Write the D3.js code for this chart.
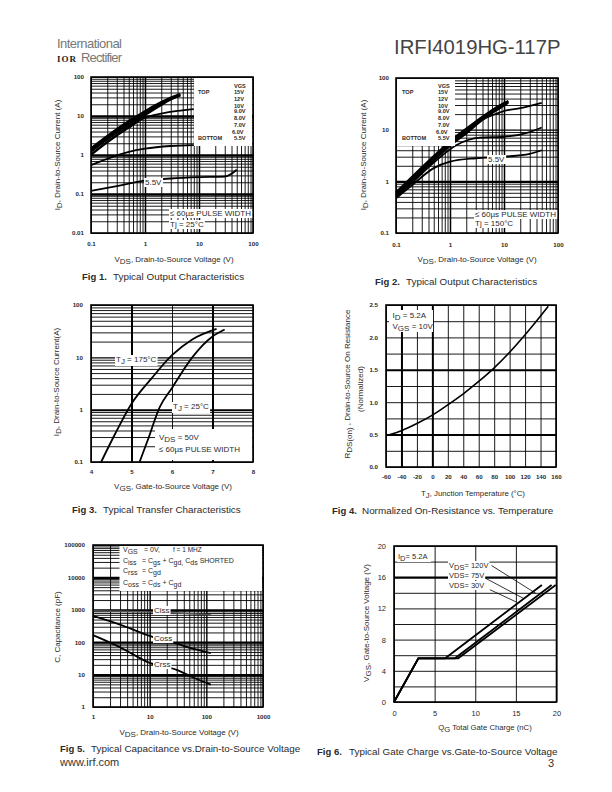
<!DOCTYPE html>
<html>
<head>
<meta charset="utf-8">
<script src="https://d3js.org/d3.v7.min.js"></script>
<style>
html, body { margin: 0; padding: 0; background: #fff; }
svg { display: block; }
text { font-family: "Liberation Sans", Arial, sans-serif; fill: #2a2a2a; }
</style>
</head>
<body>
<svg id="page" width="612" height="792"></svg>
<script>
// Fig 1 values
var f1_vds = [0.1, 0.2, 0.5, 1, 2, 3, 4.5];
var f1_15v = [1.5, 3.1, 7.5, 13.5, 23, 30, 37];
var f1_12v = [1.4, 2.9, 7, 12.8, 22, 29, 36];
var f1_10v = [1.3, 2.7, 6.5, 12, 21, 28, 35];
var f1_9v = [1.2, 2.5, 6, 11.2, 20, 27, 34];
var f1_8v = [1.05, 2.2, 5.4, 10.4, 19, 26, 33];
var f1_7v_x = [0.1, 0.2, 0.5, 1, 2, 4, 8];
var f1_7v = [1, 2.1, 5, 9, 11.5, 13.5, 15];
var f1_6v_x = [0.1, 0.2, 0.5, 1, 3, 8];
var f1_6v = [0.55, 0.8, 1.2, 1.45, 1.7, 1.8];
var f1_55v_x = [0.1, 0.3, 1, 3, 10, 30, 50];
var f1_55v = [0.12, 0.16, 0.22, 0.25, 0.27, 0.28, 0.42];

// Fig 2 values
var f2_vds = [0.1, 0.2, 0.5, 1, 2, 4, 8, 12];
var f2_15v = [0.62, 1.25, 3.1, 6, 10.5, 18, 29, 36];
var f2_12v = [0.6, 1.2, 3, 5.8, 10, 17.5, 28, 35];
var f2_10v = [0.57, 1.15, 2.85, 5.5, 9.6, 17, 27, 34.5];
var f2_9v = [0.55, 1.1, 2.7, 5.2, 9.2, 16.5, 26, 34];
var f2_8v = [0.53, 1.05, 2.6, 5, 8.8, 16, 25, 33];
var f2_7v_x = [0.1, 0.2, 0.5, 1, 2, 4.7, 7, 11, 20, 50];
var f2_7v = [0.52, 1.02, 2.5, 4.8, 8.4, 17, 20, 23.5, 26, 33];
var f2_6v_x = [0.1, 0.2, 0.5, 1.3, 3.6, 10, 30, 50];
var f2_6v = [0.5, 0.95, 2.3, 5, 7, 7.3, 9, 11];
var f2_55v_x = [0.1, 0.2, 0.5, 1, 3, 10, 30, 50];
var f2_55v = [0.47, 0.85, 1.8, 2.4, 2.8, 3, 3.4, 4];

// Fig 3 values
var f3_175_x = [4.25, 4.6, 5, 5.5, 6, 6.5, 7.1];
var f3_175 = [0.1, 0.35, 1.3, 4, 11, 22, 35];
var f3_25_x = [5.2, 5.4, 5.7, 6, 6.5, 7, 7.3];
var f3_25 = [0.1, 0.26, 1.13, 2.6, 10, 25, 34];

// Fig 4 values
var f4_temp = [-55, -40, -20, 0, 20, 40, 60, 80, 100, 120, 140, 150];
var f4_rds = [0.5, 0.56, 0.67, 0.8, 0.96, 1.13, 1.32, 1.53, 1.77, 2.04, 2.33, 2.48];

// Fig 5 values
var f5_ciss_x = [1, 10, 30, 120];
var f5_ciss = [930, 860, 800, 700];
var f5_coss_x = [1, 3, 10, 30, 60, 120];
var f5_coss = [650, 350, 157, 90, 62, 46];
var f5_crss_x = [1, 3, 10, 30, 60, 120];
var f5_crss = [165, 70, 23, 14, 8, 4.9];

// Fig 6 values
var f6_120_x = [0, 3, 6.3, 18.2];
var f6_75_x = [0, 3, 7.5, 19.4];
var f6_30_x = [0, 3, 7.9, 19.9];
var f6_vgs = [0, 5.6, 5.6, 15];
var f6_lead_x = [[12, 17.5], [11.2, 15.9], [11.8, 15.1]];
var f6_lead_y = [[17.5, 13.9], [15.9, 13.3], [14.4, 12.8]];

// tick labels
var ticks_001_100 = [0.01, 0.1, 1, 10, 100];
var ticks_01_100 = [0.1, 1, 10, 100];
var ticks_1_1000 = [1, 10, 100, 1000];
var ticks_cap = [1, 10, 100, 1000, 10000, 100000];
var ticks_vgs = [4, 5, 6, 7, 8];
var ticks_temp = [-60, -40, -20, 0, 20, 40, 60, 80, 100, 120, 140, 160];
var ticks_rds = [0, 0.5, 1, 1.5, 2, 2.5];
var ticks_qg = [0, 5, 10, 15, 20];
var ticks_f6_y = [0, 4, 8, 12, 16, 20];

var svg = d3.select("#page");

// every 1..9 multiple between the first and last decade
function log_grid(a, b) {
    var out = [];
    for (var d = a; d < b * 0.999; d *= 10) {
        for (var m = 1; m < 10; m++) out.push(+(d * m).toPrecision(3));
    }
    out.push(b);
    return out;
}

// text with V_{DS} style subscripts
function rich(sel, str) {
    var parts = str.split(/_\{(.*?)\}/);
    var shift = 0;
    parts.forEach(function (p, i) {
        if (p === "") return;
        var want = i % 2 ? 2 : 0;
        sel.append("tspan").attr("dy", want - shift).text(p);
        shift = want;
    });
    return sel;
}

function note(x, y, str, size, opts) {
    opts = opts || {};
    var t = svg.append("text").attr("x", x).attr("y", y).attr("font-size", size);
    rich(t, str);
    if (opts.anchor) t.attr("text-anchor", opts.anchor);
    if (opts.bold) t.attr("font-weight", "bold");
    if (opts.color) t.style("fill", opts.color);
    if (opts.rotate) t.attr("transform", "rotate(-90 " + x + " " + y + ")");
    if (opts.bg) {
        var b = t.node().getBBox();
        svg.insert("rect", function () { return t.node(); })
            .attr("x", b.x - 1).attr("y", b.y).attr("width", b.width + 2).attr("height", b.height)
            .attr("fill", "#fff");
    }
    return t;
}

function make_plot(c) {
    var x = (c.xlog ? d3.scaleLog() : d3.scaleLinear()).domain(c.xdomain).range([c.left, c.right]);
    var y = (c.ylog ? d3.scaleLog() : d3.scaleLinear()).domain(c.ydomain).range([c.bottom, c.top]);
    var h = c.bottom - c.top;
    var w = c.right - c.left;

    // grid is just axes with long ticks
    var gx = svg.append("g").attr("transform", "translate(0," + c.bottom + ")")
        .call(d3.axisBottom(x).tickValues(c.xgrid).tickSize(-h).tickFormat(""));
    gx.select(".domain").remove();
    gx.selectAll("line").attr("stroke", "#000").attr("stroke-width", function (d) { return c.xheavy[d] || 0.9; });

    var gy = svg.append("g").attr("transform", "translate(" + c.left + ",0)")
        .call(d3.axisLeft(y).tickValues(c.ygrid).tickSize(-w).tickFormat(""));
    gy.select(".domain").remove();
    gy.selectAll("line").attr("stroke", "#000").attr("stroke-width", function (d) { return c.yheavy[d] || 0.9; });

    var line = d3.line().x(function (d) { return x(d[0]); }).y(function (d) { return y(d[1]); });
    if (c.curve) line.curve(c.curve);
    c.series.forEach(function (s) {
        svg.append("path").datum(d3.zip(s.x, s.y))
            .attr("d", line)
            .attr("fill", "none")
            .attr("stroke", s.color || "#000")
            .attr("stroke-width", s.width || 1.8);
    });

    (c.boxes || []).forEach(function (b) {
        svg.append("rect").attr("x", b[0]).attr("y", b[1]).attr("width", b[2] - b[0]).attr("height", b[3] - b[1]).attr("fill", "#fff");
    });

    svg.append("rect").attr("x", c.left).attr("y", c.top).attr("width", w).attr("height", h)
        .attr("fill", "none").attr("stroke", "#000").attr("stroke-width", 1.6);

    // tick labels
    var ax = svg.append("g").attr("transform", "translate(0," + c.xtick_y + ")")
        .call(d3.axisBottom(x).tickValues(c.xticks).tickSize(0).tickPadding(0).tickFormat(function (d) { return String(d); }));
    ax.select(".domain").remove();
    ax.selectAll("text").attr("dy", 0).attr("y", 0).attr("font-size", c.tick_size || 6.2).attr("font-weight", c.tick_bold === false ? "normal" : "bold").attr("font-family", null);

    var ay = svg.append("g").attr("transform", "translate(" + c.ytick_x + ",0)")
        .call(d3.axisLeft(y).tickValues(c.yticks).tickSize(0).tickPadding(0).tickFormat(c.yformat || function (d) { return String(d); }));
    ay.select(".domain").remove();
    ay.selectAll("text").attr("x", 0).attr("font-size", c.tick_size || 6.2).attr("font-weight", c.tick_bold === false ? "normal" : "bold").attr("font-family", null);

    return { x: x, y: y };
}

// page header and footer
note(57, 48, "International", 13, { color: "#777" }).attr("textLength", 65);
note(57, 62, "IOR", 9, { bold: true, color: "#222" }).style("font-family", "Liberation Serif").style("letter-spacing", "1px");
note(81, 62, "Rectifier", 13, { color: "#777" }).attr("textLength", 41);
note(394, 54, "IRFI4019HG-117P", 20.3, { color: "#444" });
note(60, 766, "www.irf.com", 11, { color: "#333" });
note(548, 767, "3", 11, { color: "#333" });

// Fig 1
make_plot({
    left: 91, right: 253, top: 77, bottom: 233, xlog: true, ylog: true,
    xdomain: [0.1, 100], ydomain: [0.01, 100],
    xgrid: log_grid(0.1, 100), ygrid: log_grid(0.01, 100),
    xheavy: { 1: 1.5, 10: 1.5 }, yheavy: { 0.1: 2.4, 1: 2.4, 10: 2.4 },
    xticks: ticks_01_100, yticks: ticks_001_100, xtick_y: 246, ytick_x: 84,
    curve: d3.curveMonotoneX,
    series: [
        { x: f1_vds, y: f1_15v }, { x: f1_vds, y: f1_12v }, { x: f1_vds, y: f1_10v },
        { x: f1_vds, y: f1_9v }, { x: f1_vds, y: f1_8v }, { x: f1_7v_x, y: f1_7v },
        { x: f1_6v_x, y: f1_6v }, { x: f1_55v_x, y: f1_55v }
    ],
    boxes: [[194, 78, 252, 146]]
});
note(145, 185, "5.5V", 8, { bg: true });
note(170, 216, "≤ 60µs PULSE WIDTH", 8, { bg: true });
note(170, 227, "Tj = 25°C", 8, { bg: true });
var legend_volts = ["15V", "12V", "10V", "9.0V", "8.0V", "7.0V", "6.0V", "5.5V"];
var legend_y = [94, 100.5, 107.5, 113, 120, 127, 133.5, 140];
function vgs_legend(x_val, x_six, x_side) {
    note(x_val, 88, "VGS", 5.6, { bold: true });
    note(x_side, 94, "TOP", 5.6, { bold: true });
    note(x_side, 140, "BOTTOM", 5.6, { bold: true });
    legend_volts.forEach(function (v, i) {
        note(v === "6.0V" ? x_six : x_val, legend_y[i], v, 5.6, { bold: true });
    });
}
vgs_legend(234, 232, 198);
note(174, 262, "V_{DS}, Drain-to-Source Voltage (V)", 8, { anchor: "middle" });
note(60, 155, "I_{D}, Drain-to-Source Current (A)", 8, { anchor: "middle", rotate: true });
note(82, 280, "Fig 1.", 9.5, { bold: true });
note(113, 280, "Typical Output Characteristics", 9.9);

// Fig 2
make_plot({
    left: 396, right: 558, top: 78, bottom: 233, xlog: true, ylog: true,
    xdomain: [0.1, 100], ydomain: [0.1, 100],
    xgrid: log_grid(0.1, 100), ygrid: log_grid(0.1, 100),
    xheavy: { 1: 1.5, 10: 1.5 }, yheavy: { 1: 2.2, 10: 1.4 },
    xticks: ticks_01_100, yticks: ticks_01_100, xtick_y: 247, ytick_x: 389,
    curve: d3.curveMonotoneX,
    series: [
        { x: f2_vds, y: f2_15v }, { x: f2_vds, y: f2_12v }, { x: f2_vds, y: f2_10v },
        { x: f2_vds, y: f2_9v }, { x: f2_vds, y: f2_8v }, { x: f2_7v_x, y: f2_7v },
        { x: f2_6v_x, y: f2_6v }, { x: f2_55v_x, y: f2_55v }
    ],
    boxes: [[397, 79, 455, 146]]
});
note(488, 162, "5.5V", 8, { bg: true });
note(475, 217, "≤ 60µs PULSE WIDTH", 8, { bg: true });
note(475, 226, "Tj = 150°C", 8, { bg: true });
vgs_legend(438, 436, 402);
note(477, 262, "V_{DS}, Drain-to-Source Voltage (V)", 8, { anchor: "middle" });
note(366, 155, "I_{D}, Drain-to-Source Current (A)", 8, { anchor: "middle", rotate: true });
note(375, 285, "Fig 2.", 9.5, { bold: true });
note(406, 285, "Typical Output Characteristics", 9.9);

// Fig 3
make_plot({
    left: 91, right: 253, top: 305, bottom: 462, ylog: true, xlog: false,
    xdomain: [4, 8], ydomain: [0.1, 100],
    xgrid: ticks_vgs, ygrid: log_grid(0.1, 100),
    xheavy: { 5: 2, 7: 2 }, yheavy: { 1: 2, 10: 1.3 },
    xticks: ticks_vgs, yticks: ticks_01_100, xtick_y: 474, ytick_x: 83,
    curve: d3.curveMonotoneX,
    series: [{ x: f3_175_x, y: f3_175 }, { x: f3_25_x, y: f3_25 }],
    boxes: [[155, 429, 252, 460]]
});
note(116, 362, "T_{J} = 175°C", 8, { bg: true });
note(173, 409, "T_{J} = 25°C", 8, { bg: true });
note(159, 440, "V_{DS} = 50V", 8);
note(159, 452, "≤ 60µs PULSE WIDTH", 8);
note(173, 489, "V_{GS}, Gate-to-Source Voltage (V)", 8, { anchor: "middle" });
note(59, 382, "I_{D}, Drain-to-Source Current(A)", 8, { anchor: "middle", rotate: true });
note(72, 513, "Fig 3.", 9.5, { bold: true });
note(103, 513, "Typical Transfer Characteristics", 9.9);

// Fig 4
make_plot({
    left: 386, right: 556, top: 305, bottom: 467, xlog: false, ylog: false,
    xdomain: [-60, 160], ydomain: [0, 2.5],
    xgrid: ticks_temp, ygrid: d3.range(0, 2.51, 0.25),
    xheavy: { "-40": 2, 0: 2 }, yheavy: { 0.5: 2, 1.5: 2 },
    xticks: ticks_temp, yticks: ticks_rds, xtick_y: 479, ytick_x: 378,
    yformat: d3.format(".1f"), tick_bold: true, curve: d3.curveMonotoneX,
    series: [{ x: f4_temp, y: f4_rds, width: 1.6 }],
    boxes: [[389, 310, 433, 332]]
});
note(392.5, 318, "I_{D} = 5.2A", 8);
note(392.5, 329, "V_{GS} = 10V", 8);
note(473, 496, "T_{J},  Junction Temperature (°C)", 7.8, { anchor: "middle" });
note(350, 384, "R_{DS(on)} , Drain-to-Source On Resistance", 8, { anchor: "middle", rotate: true });
note(363, 389, "(Normalized)", 8, { anchor: "middle", rotate: true });
note(332, 514, "Fig 4.", 9.5, { bold: true });
note(362, 514, "Normalized On-Resistance vs. Temperature", 9.9);

// Fig 5
make_plot({
    left: 93, right: 263, top: 545, bottom: 707, xlog: true, ylog: true,
    xdomain: [1, 1000], ydomain: [1, 100000],
    xgrid: log_grid(1, 1000), ygrid: log_grid(1, 100000),
    xheavy: { 10: 1.4, 100: 1.4 }, yheavy: { 10: 2.2, 100: 2.2, 1000: 2.2, 10000: 2.2 },
    xticks: ticks_1_1000, yticks: ticks_cap, xtick_y: 719, ytick_x: 85,
    curve: d3.curveMonotoneX,
    series: [
        { x: f5_ciss_x, y: f5_ciss, color: "#555", width: 1.4 },
        { x: f5_coss_x, y: f5_coss },
        { x: f5_crss_x, y: f5_crss }
    ],
    boxes: [[119.5, 546, 262, 591]]
});
note(154, 613, "Ciss", 8, { bg: true });
note(154, 641, "Coss", 8, { bg: true });
note(154, 667, "Crss", 8, { bg: true });
note(123, 552, "V_{GS}", 7);
note(144, 552, "= 0V,", 7);
note(173, 552, "f = 1 MHZ", 6.5);
note(123, 563, "C_{iss}", 7);
note(142, 563, "= C_{gs} + C_{gd,}  C_{ds} SHORTED", 7);
note(123, 573, "C_{rss}", 7);
note(142, 573, "= C_{gd}", 7);
note(123, 585, "C_{oss}", 7);
note(142, 585, "= C_{ds} + C_{gd}", 7);
note(179, 735, "V_{DS}, Drain-to-Source Voltage (V)", 8, { anchor: "middle" });
note(60, 627, "C, Capacitance (pF)", 8, { anchor: "middle", rotate: true });
note(60, 752, "Fig 5.", 9.5, { bold: true });
note(91, 752, "Typical Capacitance vs.Drain-to-Source Voltage", 9.9);

// Fig 6
var f6 = make_plot({
    left: 394, right: 556.5, top: 546, bottom: 702, xlog: false, ylog: false,
    xdomain: [0, 20], ydomain: [0, 20],
    xgrid: ticks_qg, ygrid: d3.range(0, 21, 2),
    xheavy: {}, yheavy: { 16: 2.2 },
    xticks: ticks_qg, yticks: ticks_f6_y, xtick_y: 716, ytick_x: 386,
    tick_size: 7.5, tick_bold: false,
    series: [{ x: f6_120_x, y: f6_vgs }, { x: f6_75_x, y: f6_vgs }, { x: f6_30_x, y: f6_vgs }],
    boxes: [[397, 551, 431, 562]]
});
// leaders from the VDS labels down to the lines
f6_lead_x.forEach(function (lx, i) {
    svg.append("line")
        .attr("x1", f6.x(lx[0])).attr("y1", f6.y(f6_lead_y[i][0]))
        .attr("x2", f6.x(lx[1])).attr("y2", f6.y(f6_lead_y[i][1]))
        .attr("stroke", "#000").attr("stroke-width", 0.8);
});
note(398, 559, "I_{D}= 5.2A", 7.5);
note(449, 568, "V_{DS}= 120V", 7.5, { bg: true });
note(449, 578, "VDS= 75V", 7.5, { bg: true });
note(449, 588, "VDS= 30V", 7.5, { bg: true });
note(485, 730, "Q_{G}  Total Gate Charge (nC)", 7.7, { anchor: "middle" });
note(369, 623, "V_{GS}, Gate-to-Source Voltage (V)", 8, { anchor: "middle", rotate: true });
note(317, 755, "Fig 6.", 9.5, { bold: true });
note(349, 755, "Typical Gate Charge vs.Gate-to-Source Voltage", 9.9);
</script>
</body>
</html>
